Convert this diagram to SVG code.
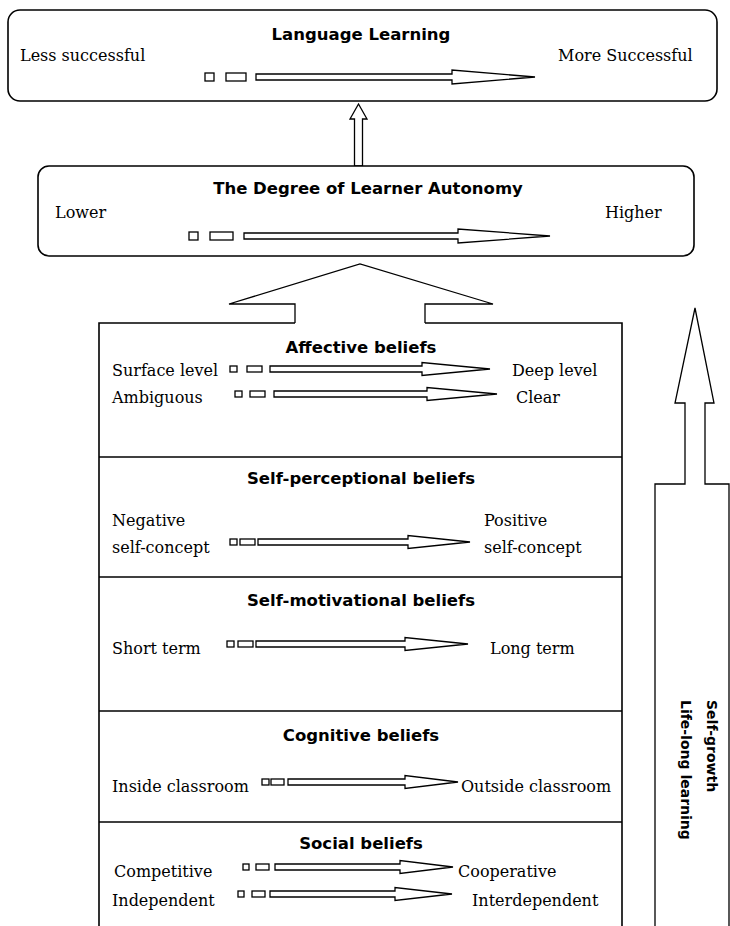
<svg xmlns="http://www.w3.org/2000/svg" width="730" height="926" viewBox="0 0 730 926">
<style>
.box{fill:#fff;stroke:#000;stroke-width:1.6}
.ln{fill:none;stroke:#000;stroke-width:1.6}
.arr{fill:#fff;stroke:#000;stroke-width:1.3;stroke-linejoin:miter}
.sq{fill:#fff;stroke:#000;stroke-width:1.3}
.t{font-family:"DejaVu Sans","Liberation Sans",sans-serif;font-weight:bold;font-size:16.5px;text-anchor:middle;fill:#000}
.s{font-family:"DejaVu Serif","Liberation Serif",serif;font-size:16px;fill:#000}
.v{font-family:"DejaVu Sans","Liberation Sans",sans-serif;font-weight:bold;font-size:14px;fill:#000}
</style>
<rect width="730" height="926" fill="#fff"/>

<g id="connectors">
  <polygon class="arr" points="358.5,104 367,119 362.5,119 362.5,166 354.5,166 354.5,119 350,119"/>
  <polyline class="arr" points="295,323 295,304 229,304 360,264 493,304 425,304 425,323"/>
</g>

<g id="language-learning">
  <rect class="box" x="8" y="10" width="709" height="91" rx="12"/>
  <text class="t" x="361" y="40">Language Learning</text>
  <text class="s" x="20" y="61">Less successful</text>
  <text class="s" x="558" y="61">More Successful</text>
  <rect class="sq" x="205" y="73" width="9" height="8"/>
  <rect class="sq" x="226" y="73" width="20" height="8"/>
  <path class="arr" d="M256,74 H452 V70 L535,77 L452,84 V80 H256 Z"/>
</g>

<g id="learner-autonomy">
  <rect class="box" x="38" y="166" width="656" height="90" rx="11"/>
  <text class="t" x="368" y="194">The Degree of Learner Autonomy</text>
  <text class="s" x="55" y="218">Lower</text>
  <text class="s" x="605" y="218">Higher</text>
  <rect class="sq" x="189" y="232" width="9" height="8"/>
  <rect class="sq" x="210" y="232" width="23" height="8"/>
  <path class="arr" d="M244,233 H458 V229 L550,236 L458,243 V239 H244 Z"/>
</g>

<g id="belief-stack">
  <polyline class="ln" points="295,323 99,323 99,926"/>
  <polyline class="ln" points="425,323 622,323 622,926"/>
  <line class="ln" x1="99" y1="457" x2="622" y2="457"/>
  <line class="ln" x1="99" y1="577" x2="622" y2="577"/>
  <line class="ln" x1="99" y1="711" x2="622" y2="711"/>
  <line class="ln" x1="99" y1="822" x2="622" y2="822"/>
</g>

<g id="affective-beliefs">
  <text class="t" x="361" y="353">Affective beliefs</text>
  <text class="s" x="112" y="376">Surface level</text>
  <rect class="sq" x="230" y="366" width="7" height="6"/>
  <rect class="sq" x="247" y="366" width="15" height="6"/>
  <path class="arr" d="M270,366 H422 V362.5 L490,369 L422,375.5 V372 H270 Z"/>
  <text class="s" x="512" y="376">Deep level</text>
  <text class="s" x="112" y="403">Ambiguous</text>
  <rect class="sq" x="235" y="391" width="7" height="6"/>
  <rect class="sq" x="250" y="391" width="15" height="6"/>
  <path class="arr" d="M274,391 H427 V387.5 L497,394 L427,400.5 V397 H274 Z"/>
  <text class="s" x="516" y="403">Clear</text>
</g>

<g id="self-perceptional-beliefs">
  <text class="t" x="361" y="484">Self-perceptional beliefs</text>
  <text class="s" x="112" y="526">Negative</text>
  <text class="s" x="112" y="553">self-concept</text>
  <rect class="sq" x="230" y="539" width="7" height="6"/>
  <rect class="sq" x="240" y="539" width="15" height="6"/>
  <path class="arr" d="M258,539 H408 V535.5 L470,542 L408,548.5 V545 H258 Z"/>
  <text class="s" x="484" y="526">Positive</text>
  <text class="s" x="484" y="553">self-concept</text>
</g>

<g id="self-motivational-beliefs">
  <text class="t" x="361" y="606">Self-motivational beliefs</text>
  <text class="s" x="112" y="654">Short term</text>
  <rect class="sq" x="227" y="641" width="7" height="6"/>
  <rect class="sq" x="238" y="641" width="15" height="6"/>
  <path class="arr" d="M256,641 H405 V637.5 L468,644 L405,650.5 V647 H256 Z"/>
  <text class="s" x="490" y="654">Long term</text>
</g>

<g id="cognitive-beliefs">
  <text class="t" x="361" y="741">Cognitive beliefs</text>
  <text class="s" x="112" y="792">Inside classroom</text>
  <rect class="sq" x="262" y="779" width="7" height="6"/>
  <rect class="sq" x="271" y="779" width="13" height="6"/>
  <path class="arr" d="M288,779 H405 V775.5 L458,782 L405,788.5 V785 H288 Z"/>
  <text class="s" x="461" y="792">Outside classroom</text>
</g>

<g id="social-beliefs">
  <text class="t" x="361" y="849">Social beliefs</text>
  <text class="s" x="114" y="877">Competitive</text>
  <rect class="sq" x="243" y="864" width="6" height="6"/>
  <rect class="sq" x="256" y="864" width="13" height="6"/>
  <path class="arr" d="M275,864 H400 V860.5 L453,867 L400,873.5 V870 H275 Z"/>
  <text class="s" x="458" y="877">Cooperative</text>
  <text class="s" x="112" y="906">Independent</text>
  <rect class="sq" x="238" y="891" width="6" height="6"/>
  <rect class="sq" x="252" y="891" width="13" height="6"/>
  <path class="arr" d="M270,891 H395 V887.5 L452,894 L395,900.5 V897 H270 Z"/>
  <text class="s" x="472" y="906">Interdependent</text>
</g>

<g id="self-growth">
  <polyline class="arr" points="655,926 655,484 685,484 685,403 675,403 695,308 714,403 705,403 705,484 729,484 729,926"/>
  <text class="v" transform="translate(707,700) rotate(90)">Self-growth</text>
  <text class="v" transform="translate(681,700) rotate(90)">Life-long learning</text>
</g>
</svg>
